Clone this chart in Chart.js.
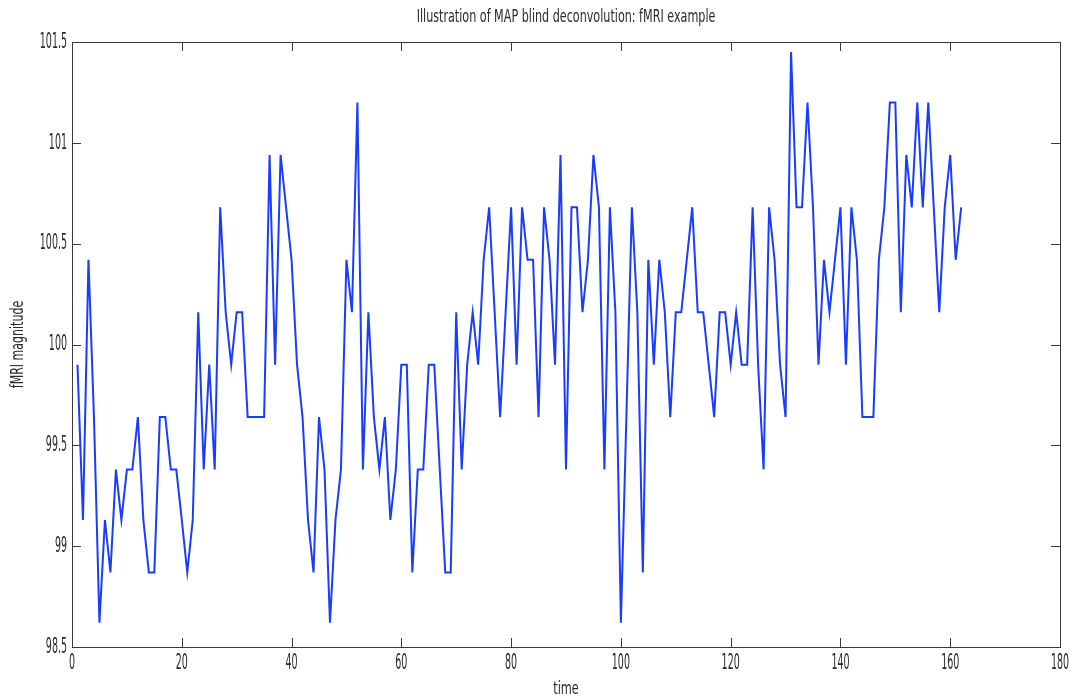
<!DOCTYPE html>
<html>
<head>
<meta charset="utf-8">
<title>fMRI example</title>
<script src="https://cdn.jsdelivr.net/npm/chart.js@4"></script>
<style>
  html, body { margin: 0; padding: 0; background: #fff; }
  #plot { display: block; }
</style>
</head>
<body>
<canvas id="plot" width="1078" height="698"></canvas>
<script>
// fMRI magnitude per time sample (samples 1..162)
const magnitude = [
  99.90, 99.13, 100.42, 99.64, 98.62, 99.13, 98.87, 99.38, 99.13, 99.38,
  99.38, 99.64, 99.13, 98.87, 98.87, 99.64, 99.64, 99.38, 99.38, 99.13,
  98.87, 99.13, 100.16, 99.38, 99.90, 99.38, 100.68, 100.16, 99.90, 100.16,
  100.16, 99.64, 99.64, 99.64, 99.64, 100.94, 99.90, 100.94, 100.68, 100.42,
  99.90, 99.64, 99.13, 98.87, 99.64, 99.38, 98.62, 99.13, 99.38, 100.42,
  100.16, 101.20, 99.38, 100.16, 99.64, 99.38, 99.64, 99.13, 99.38, 99.90,
  99.90, 98.87, 99.38, 99.38, 99.90, 99.90, 99.38, 98.87, 98.87, 100.16,
  99.38, 99.90, 100.16, 99.90, 100.42, 100.68, 100.16, 99.64, 100.16, 100.68,
  99.90, 100.68, 100.42, 100.42, 99.64, 100.68, 100.42, 99.90, 100.94, 99.38,
  100.68, 100.68, 100.16, 100.42, 100.94, 100.68, 99.38, 100.68, 100.16, 98.62,
  99.64, 100.68, 100.16, 98.87, 100.42, 99.90, 100.42, 100.16, 99.64, 100.16,
  100.16, 100.42, 100.68, 100.16, 100.16, 99.90, 99.64, 100.16, 100.16, 99.90,
  100.16, 99.90, 99.90, 100.68, 99.90, 99.38, 100.68, 100.42, 99.90, 99.64,
  101.45, 100.68, 100.68, 101.20, 100.68, 99.90, 100.42, 100.16, 100.42, 100.68,
  99.90, 100.68, 100.42, 99.64, 99.64, 99.64, 100.42, 100.68, 101.20, 101.20,
  100.16, 100.94, 100.68, 101.20, 100.68, 101.20, 100.68, 100.16, 100.68, 100.94,
  100.42, 100.68
];
const firstSample = 1;

const xTicks = [0, 20, 40, 60, 80, 100, 120, 140, 160, 180];
const yTicks = [98.5, 99, 99.5, 100, 100.5, 101, 101.5];

const titleText = 'Illustration of MAP blind deconvolution: fMRI example';
const xTitle = 'time';
const yTitle = 'fMRI magnitude';

const FONT = '"Liberation Sans Narrow", "DejaVu Sans Condensed", sans-serif';
const INK = '#2a2a2a';

// narrow, tall lettering: draw with a horizontal squeeze
function label(ctx, str, x, y, size, squeeze, align, rotate) {
  ctx.save();
  ctx.translate(x, y);
  if (rotate) ctx.rotate(-Math.PI / 2);
  ctx.scale(squeeze, 1);
  ctx.font = size + 'px ' + FONT;
  ctx.fillStyle = INK;
  ctx.textAlign = align;
  ctx.textBaseline = 'middle';
  ctx.fillText(str, 0, 0);
  ctx.restore();
}

const axesBox = {
  id: 'axesBox',
  afterDraw(chart) {
    const { ctx, chartArea: a, scales } = chart;
    const tick = 9;
    ctx.save();
    ctx.strokeStyle = '#3a3a3a';
    ctx.lineWidth = 1;
    ctx.strokeRect(a.left + 0.5, a.top + 0.5, a.right - a.left, a.bottom - a.top);
    ctx.beginPath();
    xTicks.forEach(v => {
      const px = Math.round(scales.x.getPixelForValue(v)) + 0.5;
      ctx.moveTo(px, a.bottom); ctx.lineTo(px, a.bottom - tick);
      ctx.moveTo(px, a.top); ctx.lineTo(px, a.top + tick);
    });
    yTicks.forEach(v => {
      const py = Math.round(scales.y.getPixelForValue(v)) + 0.5;
      ctx.moveTo(a.left, py); ctx.lineTo(a.left + tick, py);
      ctx.moveTo(a.right, py); ctx.lineTo(a.right - tick, py);
    });
    ctx.stroke();
    ctx.restore();

    xTicks.forEach(v => {
      label(ctx, String(v), scales.x.getPixelForValue(v), a.bottom + 16, 22, 0.48, 'center');
    });
    yTicks.forEach(v => {
      label(ctx, String(v), a.left - 5, scales.y.getPixelForValue(v), 22, 0.48, 'right');
    });
    const midX = (a.left + a.right) / 2;
    label(ctx, titleText, midX, 17, 18, 0.69, 'center');
    label(ctx, xTitle, midX, 689, 18, 0.7, 'center');
    label(ctx, yTitle, 18, (a.top + a.bottom) / 2, 18, 0.68, 'center', true);
  }
};

new Chart(document.getElementById('plot'), {
  type: 'line',
  data: {
    datasets: [{
      data: magnitude.map((m, i) => ({ x: firstSample + i, y: m })),
      borderColor: '#1a3cff',
      borderWidth: 2,
      pointRadius: 0,
      tension: 0,
      fill: false
    }]
  },
  options: {
    responsive: false,
    animation: false,
    devicePixelRatio: 1,
    layout: { padding: { left: 72, right: 18, top: 42, bottom: 51 } },
    plugins: { legend: { display: false }, title: { display: false }, tooltip: { enabled: false } },
    scales: {
      x: { type: 'linear', min: 0, max: 180, display: false },
      y: { type: 'linear', min: 98.5, max: 101.5, display: false }
    }
  },
  plugins: [axesBox]
});
</script>
</body>
</html>
